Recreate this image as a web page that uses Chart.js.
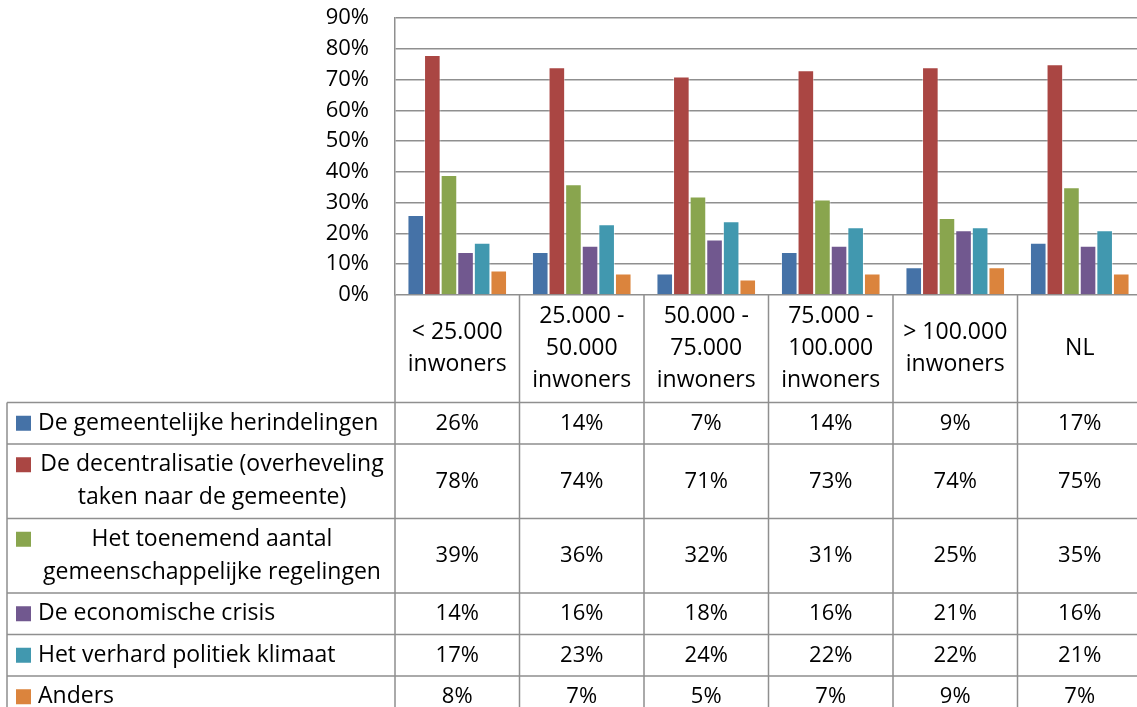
<!DOCTYPE html>
<html>
<head>
<meta charset="utf-8">
<script src="https://cdn.jsdelivr.net/npm/chart.js@4.4.0/dist/chart.umd.min.js"></script>
<style>
  html, body { margin: 0; padding: 0; background: #fff; overflow: hidden; }
</style>
</head>
<body>
<canvas id="grafiek" width="1145" height="707"></canvas>
<script>
// categorieen (kolommen van de tabel), regels zoals ze afgebroken worden
const categories = ["< 25.000 inwoners", "25.000 - 50.000 inwoners", "50.000 - 75.000 inwoners",
  "75.000 - 100.000 inwoners", "> 100.000 inwoners", "NL"];
const categoryLines = [
  ["< 25.000", "inwoners"],
  ["25.000 -", "50.000", "inwoners"],
  ["50.000 -", "75.000", "inwoners"],
  ["75.000 -", "100.000", "inwoners"],
  ["> 100.000", "inwoners"],
  ["NL"]
];

const seriesNames = [
  "De gemeentelijke herindelingen",
  "De decentralisatie (overheveling taken naar de gemeente)",
  "Het toenemend aantal gemeenschappelijke regelingen",
  "De economische crisis",
  "Het verhard politiek klimaat",
  "Anders"
];
const seriesLines = [
  ["De gemeentelijke herindelingen"],
  ["De decentralisatie (overheveling", "taken naar de gemeente)"],
  ["Het toenemend aantal", "gemeenschappelijke regelingen"],
  ["De economische crisis"],
  ["Het verhard politiek klimaat"],
  ["Anders"]
];

// percentages per reeks
const herindelingen   = [26, 14, 7, 14, 9, 17];
const decentralisatie = [78, 74, 71, 73, 74, 75];
const regelingen      = [39, 36, 32, 31, 25, 35];
const crisis          = [14, 16, 18, 16, 21, 16];
const klimaat         = [17, 23, 24, 22, 22, 21];
const anders          = [8, 7, 5, 7, 9, 7];

const yTicks = [0, 10, 20, 30, 40, 50, 60, 70, 80, 90];

const kleuren = ["#4572A7", "#AA4643", "#89A54E", "#71588F", "#4198AF", "#DB843D"];
const alleReeksen = [herindelingen, decentralisatie, regelingen, crisis, klimaat, anders];

const FONT = "'Open Sans'";
const FSIZE = 22;
const LIJN = "#8f8f8f";

// tabel onder de grafiek
const tabelPlugin = {
  id: "datatabel",
  afterDraw(chart) {
    const ctx = chart.ctx;
    const area = chart.chartArea;
    const n = categories.length;
    const colW = (area.right - area.left) / n;
    const left = 7;
    const rowH = (lines) => 8.5 + 33 * lines;
    const lh = 33;
    const gewoon = FSIZE + "px " + FONT;
    const groot = (FSIZE + 1) + "px " + FONT;

    ctx.save();
    ctx.fillStyle = "#000";
    ctx.textBaseline = "middle";
    ctx.strokeStyle = LIJN;
    ctx.lineWidth = 1.5;

    // kopregel
    let y = area.bottom;
    const headH = rowH(3);
    ctx.font = groot;
    categoryLines.forEach((lines, i) => {
      const cx = area.left + colW * (i + 0.5);
      const cy = y + headH / 2;
      ctx.textAlign = "center";
      lines.forEach((t, k) => {
        ctx.fillText(t, cx, cy + (k - (lines.length - 1) / 2) * 32);
      });
    });
    const rowTops = [y];
    y += headH;

    // rijen
    seriesLines.forEach((lines, r) => {
      rowTops.push(y);
      const h = rowH(lines.length);
      const firstY = y + h / 2 - (lines.length - 1) * lh / 2;
      ctx.fillStyle = kleuren[r];
      ctx.fillRect(16, firstY - 7.5, 15, 15);
      ctx.fillStyle = "#000";
      ctx.font = groot;
      if (lines.length === 1) {
        ctx.textAlign = "left";
        ctx.fillText(lines[0], 38, firstY);
      } else {
        ctx.textAlign = "center";
        lines.forEach((t, k) => ctx.fillText(t, 212, firstY + k * lh));
      }
      ctx.font = gewoon;
      ctx.textAlign = "center";
      alleReeksen[r].forEach((v, i) => {
        ctx.fillText(v + "%", area.left + colW * (i + 0.5), y + h / 2);
      });
      y += h;
    });
    rowTops.push(y);

    // lijnen
    ctx.beginPath();
    for (let k = 1; k < rowTops.length; k++) {
      ctx.moveTo(left, rowTops[k]);
      ctx.lineTo(area.right, rowTops[k]);
    }
    ctx.moveTo(left, rowTops[1]);
    ctx.lineTo(left, y);
    for (let i = 0; i <= n; i++) {
      const x = area.left + colW * i;
      ctx.moveTo(x, area.bottom);
      ctx.lineTo(x, y);
    }
    ctx.stroke();
    ctx.restore();
  }
};

new Chart(document.getElementById("grafiek"), {
  type: "bar",
  data: {
    labels: categories,
    datasets: seriesNames.map((naam, i) => ({
      label: naam,
      data: alleReeksen[i],
      backgroundColor: kleuren[i],
      borderColor: "rgba(255,255,255,0.45)",
      borderWidth: 1,
      categoryPercentage: 0.8,
      barPercentage: 1.0
    }))
  },
  options: {
    responsive: false,
    devicePixelRatio: 1,
    animation: false,
    layout: { padding: { left: 0, right: 3, top: 18, bottom: 412 } },
    plugins: { legend: { display: false }, tooltip: { enabled: false } },
    scales: {
      x: { display: false },
      y: {
        min: 0,
        max: 90,
        afterBuildTicks: (s) => { s.ticks = yTicks.map((v) => ({ value: v })); },
        afterFit: (s) => { s.width = 395; s.paddingTop = 0; s.paddingBottom = 0; },
        ticks: {
          color: "#000",
          padding: 26,
          font: { family: FONT, size: FSIZE },
          callback: (v) => v + "%"
        },
        grid: { color: LIJN, lineWidth: 1.5, drawTicks: false },
        border: { color: LIJN, width: 1.5 }
      }
    }
  },
  plugins: [tabelPlugin]
});
</script>
</body>
</html>
